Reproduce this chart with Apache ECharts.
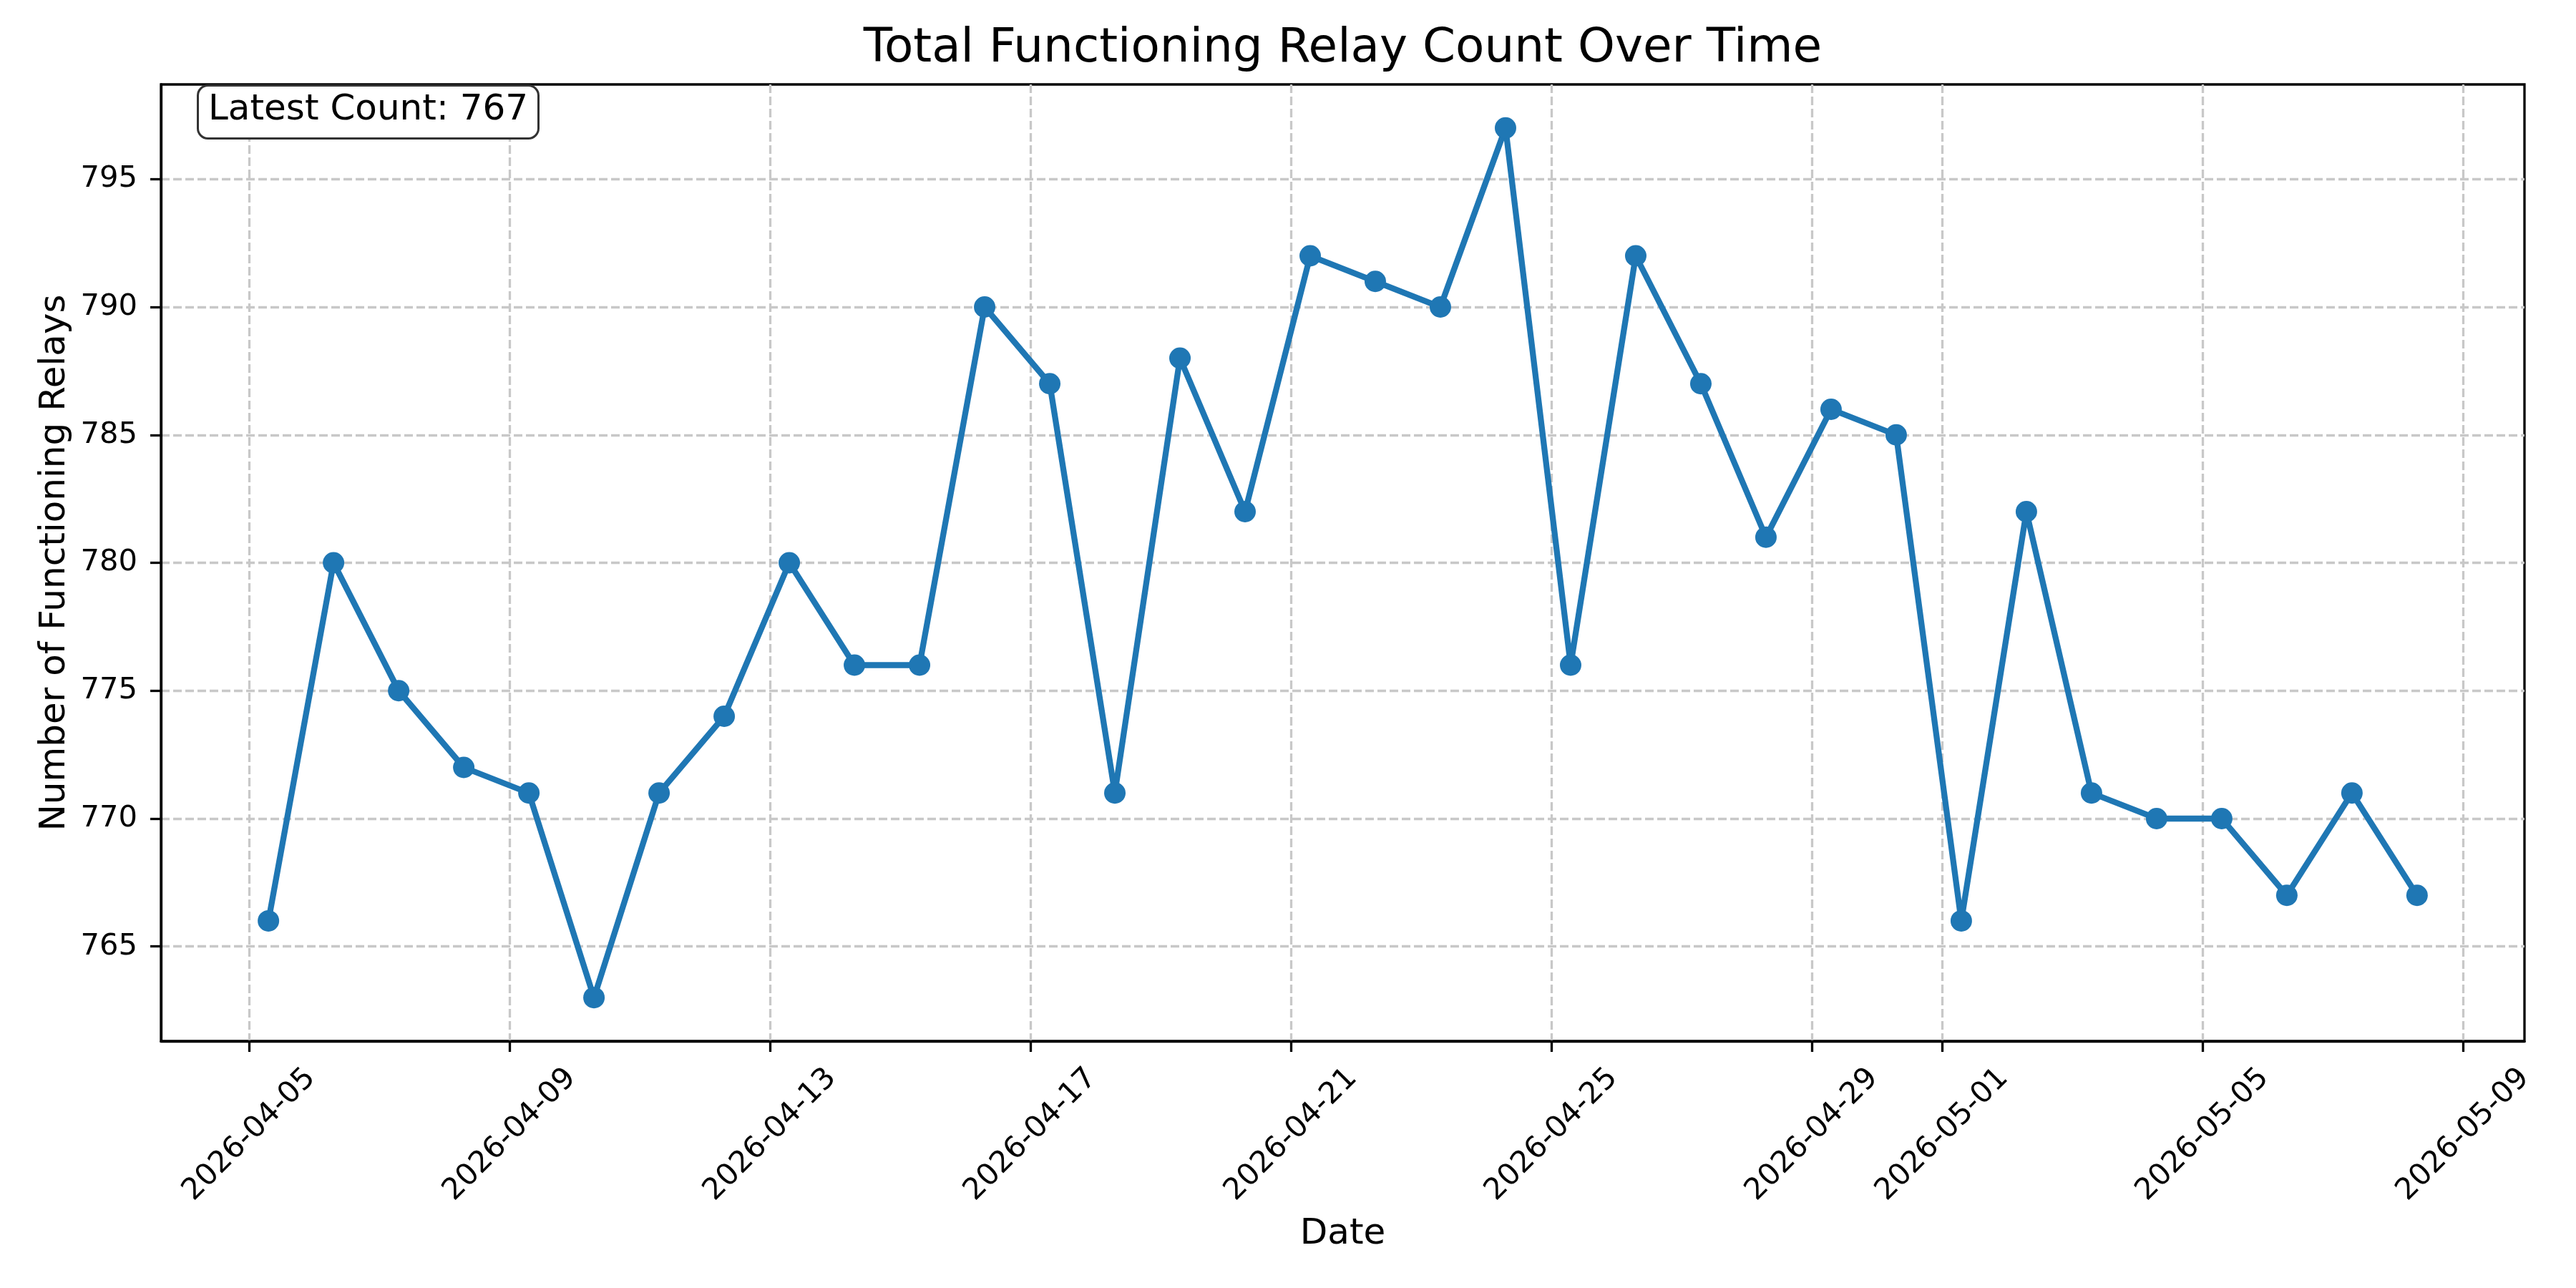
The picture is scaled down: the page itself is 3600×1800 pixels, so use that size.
<!DOCTYPE html>
<html>
<head>
<meta charset="utf-8">
<script src="https://cdn.jsdelivr.net/npm/echarts@6/dist/echarts.min.js"></script>
<style>
  html, body { margin: 0; padding: 0; background: #fff; }
  #chart { width: 3600px; height: 1800px; }
</style>
</head>
<body>
<div id="chart"></div>
<script>
// one reading per day, taken around 07:00
const dates = [
  '2026-04-05', '2026-04-06', '2026-04-07', '2026-04-08', '2026-04-09',
  '2026-04-10', '2026-04-11', '2026-04-12', '2026-04-13', '2026-04-14',
  '2026-04-15', '2026-04-16', '2026-04-17', '2026-04-18', '2026-04-19',
  '2026-04-20', '2026-04-21', '2026-04-22', '2026-04-23', '2026-04-24',
  '2026-04-25', '2026-04-26', '2026-04-27', '2026-04-28', '2026-04-29',
  '2026-04-30', '2026-05-01', '2026-05-02', '2026-05-03', '2026-05-04',
  '2026-05-05', '2026-05-06', '2026-05-07', '2026-05-08'
]
const readTime = '07:00'
const counts = [
  766, 780, 775, 772, 771, 763, 771, 774, 780, 776,
  776, 790, 787, 771, 788, 782, 792, 791, 790, 797,
  776, 792, 787, 781, 786, 785, 766, 782, 771, 770,
  770, 767, 771, 767
]
const xTickLabels = [
  '2026-04-05', '2026-04-09', '2026-04-13', '2026-04-17', '2026-04-21',
  '2026-04-25', '2026-04-29', '2026-05-01', '2026-05-05', '2026-05-09'
]
const yTickValues = [765, 770, 775, 780, 785, 790, 795]

const toMs = (d, t) => Date.parse(d + 'T' + (t || '00:00') + ':00Z')
const pad2 = n => (n < 10 ? '0' : '') + n
const fmtDate = ms => {
  const d = new Date(ms)
  return d.getUTCFullYear() + '-' + pad2(d.getUTCMonth() + 1) + '-' + pad2(d.getUTCDate())
}

const points = dates.map((d, i) => [toMs(d, readTime), counts[i]])
const xTicks = xTickLabels.map(d => toMs(d))

// matplotlib-like 5% margins
const xs = points.map(p => p[0])
const xMin0 = Math.min(...xs), xMax0 = Math.max(...xs)
const yMin0 = Math.min(...counts), yMax0 = Math.max(...counts)
const xPad = (xMax0 - xMin0) * 0.05
const yPad = (yMax0 - yMin0) * 0.05

const W = 3600
const grid = { left: 225, right: 72, top: 118, bottom: 345 }
const plotCenter = grid.left + (W - grid.left - grid.right) / 2

const font = 'DejaVu Sans'
const gridLine = { show: true, lineStyle: { color: '#c8c8c8', width: 3.3, type: [12, 5] } }

const chart = echarts.init(document.getElementById('chart'), null, { renderer: 'canvas' })
chart.setOption({
  animation: false,
  backgroundColor: '#fff',
  textStyle: { fontFamily: font },
  title: [
    {
      text: 'Total Functioning Relay Count Over Time',
      left: plotCenter,
      textAlign: 'center',
      top: 36,
      padding: 0,
      textStyle: { fontFamily: font, fontSize: 66, fontWeight: 'normal', color: '#000' }
    },
    {
      text: 'Latest Count: ' + counts[counts.length - 1],
      left: 276,
      top: 119,
      padding: [10, 15, 15, 15],
      backgroundColor: '#fff',
      borderColor: '#333',
      borderWidth: 3,
      borderRadius: 14,
      textStyle: { fontFamily: font, fontSize: 50, fontWeight: 'normal', color: '#000', lineHeight: 50 }
    }
  ],
  grid: Object.assign({}, grid, {
    show: true, borderColor: '#000', borderWidth: 3.3, backgroundColor: 'transparent'
  }),
  xAxis: {
    type: 'value',
    min: xMin0 - xPad,
    max: xMax0 + xPad,
    name: 'Date',
    nameLocation: 'middle',
    nameGap: 245,
    nameTextStyle: { fontFamily: font, fontSize: 50, color: '#000' },
    axisLine: { show: true, onZero: false, lineStyle: { color: '#000', width: 3.3 } },
    axisTick: { show: true, length: 15, lineStyle: { color: '#000', width: 3.3 }, customValues: xTicks },
    axisLabel: {
      customValues: xTicks,
      formatter: v => fmtDate(v),
      rotate: 45,
      align: 'center',
      verticalAlign: 'middle',
      margin: 131,
      fontFamily: font,
      fontSize: 41.7,
      color: '#000'
    },
    splitLine: gridLine
  },
  yAxis: {
    type: 'value',
    min: yMin0 - yPad,
    max: yMax0 + yPad,
    name: 'Number of Functioning Relays',
    nameLocation: 'middle',
    nameGap: 120,
    nameTextStyle: { fontFamily: font, fontSize: 50, color: '#000' },
    axisLine: { show: true, onZero: false, lineStyle: { color: '#000', width: 3.3 } },
    axisTick: { show: true, length: 15, lineStyle: { color: '#000', width: 3.3 }, customValues: yTickValues },
    axisLabel: {
      customValues: yTickValues,
      margin: 33,
      fontFamily: font,
      fontSize: 41.7,
      color: '#000'
    },
    splitLine: gridLine
  },
  series: [
    {
      type: 'line',
      data: points,
      showAllSymbol: true,
      symbol: 'circle',
      symbolSize: 30,
      lineStyle: { color: '#1f77b4', width: 8.3 },
      itemStyle: { color: '#1f77b4' }
    }
  ]
})
</script>
</body>
</html>
